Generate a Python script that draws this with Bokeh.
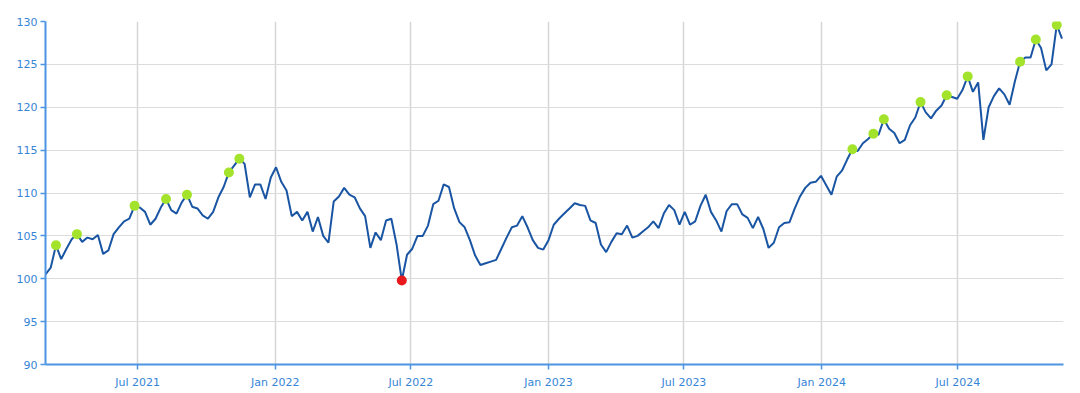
import pandas as pd
from bokeh.plotting import figure
from bokeh.models import ColumnDataSource, Range1d, FixedTicker, DatetimeTickFormatter
from bokeh.embed import file_html
from bokeh.resources import INLINE

# ---- data (weekly readings) ----
start_date = "2021-02-28"
values = [
    100.5, 101.3, 103.9, 102.3, 103.5, 104.6, 105.2, 104.3, 104.8, 104.6,
    105.1, 102.9, 103.3, 105.2, 106.0, 106.7, 107.0, 108.5, 108.3, 107.8,
    106.3, 107.0, 108.3, 109.3, 108.0, 107.6, 108.9, 109.8, 108.4, 108.2,
    107.4, 107.0, 107.8, 109.5, 110.7, 112.4, 113.2, 114.0, 113.4, 109.5,
    111.0, 111.0, 109.3, 111.8, 113.0, 111.3, 110.3, 107.3, 107.8, 106.8,
    107.8, 105.5, 107.2, 105.0, 104.2, 109.0, 109.6, 110.6, 109.8, 109.5,
    108.2, 107.3, 103.6, 105.4, 104.5, 106.8, 107.0, 104.0, 99.8, 102.8,
    103.5, 105.0, 105.0, 106.2, 108.7, 109.1, 111.0, 110.7, 108.2, 106.6,
    106.0, 104.5, 102.7, 101.6, 101.8, 102.0, 102.2, 103.5, 104.8, 106.0,
    106.2, 107.3, 106.0, 104.5, 103.6, 103.4, 104.5, 106.3, 107.0, 107.6,
    108.2, 108.8, 108.6, 108.5, 106.8, 106.5, 104.0, 103.1, 104.3, 105.3,
    105.2, 106.2, 104.8, 105.0, 105.5, 106.0, 106.7, 105.9, 107.6, 108.6,
    108.0, 106.3, 107.8, 106.3, 106.7, 108.5, 109.8, 107.8, 106.8, 105.5,
    107.9, 108.7, 108.7, 107.5, 107.1, 105.9, 107.2, 105.8, 103.6, 104.2,
    106.0, 106.5, 106.6, 108.2, 109.6, 110.6, 111.2, 111.3, 112.0, 110.9,
    109.8, 111.9, 112.6, 113.9, 115.1, 114.9, 115.8, 116.3, 116.9, 116.8,
    118.6, 117.5, 117.0, 115.8, 116.2, 117.9, 118.8, 120.6, 119.4, 118.7,
    119.6, 120.2, 121.4, 121.2, 121.0, 122.0, 123.6, 121.8, 122.9, 116.2,
    120.0, 121.3, 122.2, 121.5, 120.3, 123.0, 125.3, 125.8, 125.8, 127.9,
    126.9, 124.3, 125.0, 129.6, 128.0,
]
high_idx = [2, 6, 17, 23, 27, 35, 37, 154, 158, 160, 167, 172, 176, 186, 189, 193]
low_idx = [68]
x_tick_dates = ["2021-07-01", "2022-01-01", "2022-07-01", "2023-01-01",
                "2023-07-01", "2024-01-01", "2024-07-01"]
y_ticks = [90, 95, 100, 105, 110, 115, 120, 125, 130]
x_start, x_end = "2021-02-28", "2024-11-19"

dates = pd.date_range(start_date, periods=len(values), freq="7D")
src = ColumnDataSource(dict(date=dates, value=values))
hi_src = ColumnDataSource(dict(date=[dates[i] for i in high_idx],
                               value=[values[i] for i in high_idx]))
lo_src = ColumnDataSource(dict(date=[dates[i] for i in low_idx],
                               value=[values[i] for i in low_idx]))

p = figure(width=1072, height=391, x_axis_type="datetime",
           output_backend="svg", toolbar_location=None,
           x_range=Range1d(pd.Timestamp(x_start), pd.Timestamp(x_end)),
           y_range=Range1d(y_ticks[0], y_ticks[-1]),
           min_border_left=45, min_border_right=9,
           min_border_top=21, min_border_bottom=27)
p.outline_line_color = None
p.background_fill_color = "white"
p.border_fill_color = "white"

p.line("date", "value", source=src, line_color="#1a55a3", line_width=2)
p.scatter("date", "value", source=hi_src, size=10,
          fill_color="#a4e32b", line_color=None)
p.scatter("date", "value", source=lo_src, size=10,
          fill_color="#e8191c", line_color=None)

tick_ms = [pd.Timestamp(t).value // 10**6 for t in x_tick_dates]
p.xaxis.ticker = FixedTicker(ticks=tick_ms)
fmt = "%b %Y"
p.xaxis.formatter = DatetimeTickFormatter(
    milliseconds=fmt, seconds=fmt, minsec=fmt, minutes=fmt, hourmin=fmt,
    hours=fmt, days=fmt, months=fmt, years=fmt)
p.yaxis.ticker = FixedTicker(ticks=y_ticks)

for ax in (p.xaxis, p.yaxis):
    ax.axis_line_color = "#4d95e3"
    ax.axis_line_width = 2
    ax.major_tick_line_color = "#4d95e3"
    ax.major_tick_line_width = 1.5
    ax.major_tick_out = 5
    ax.major_tick_in = 0
    ax.minor_tick_line_color = None
    ax.major_label_text_font = "DejaVu Sans"
    ax.major_label_text_font_size = "11px"
    ax.major_label_text_color = "#3585d6"
p.xaxis.major_label_standoff = 6
p.yaxis.major_label_standoff = 3

p.xgrid.grid_line_color = "#d6d6d6"
p.ygrid.grid_line_color = "#dcdcdc"
p.xgrid.grid_line_width = 1.5
p.ygrid.grid_line_width = 1

open("out.html", "w").write(file_html(p, INLINE))
